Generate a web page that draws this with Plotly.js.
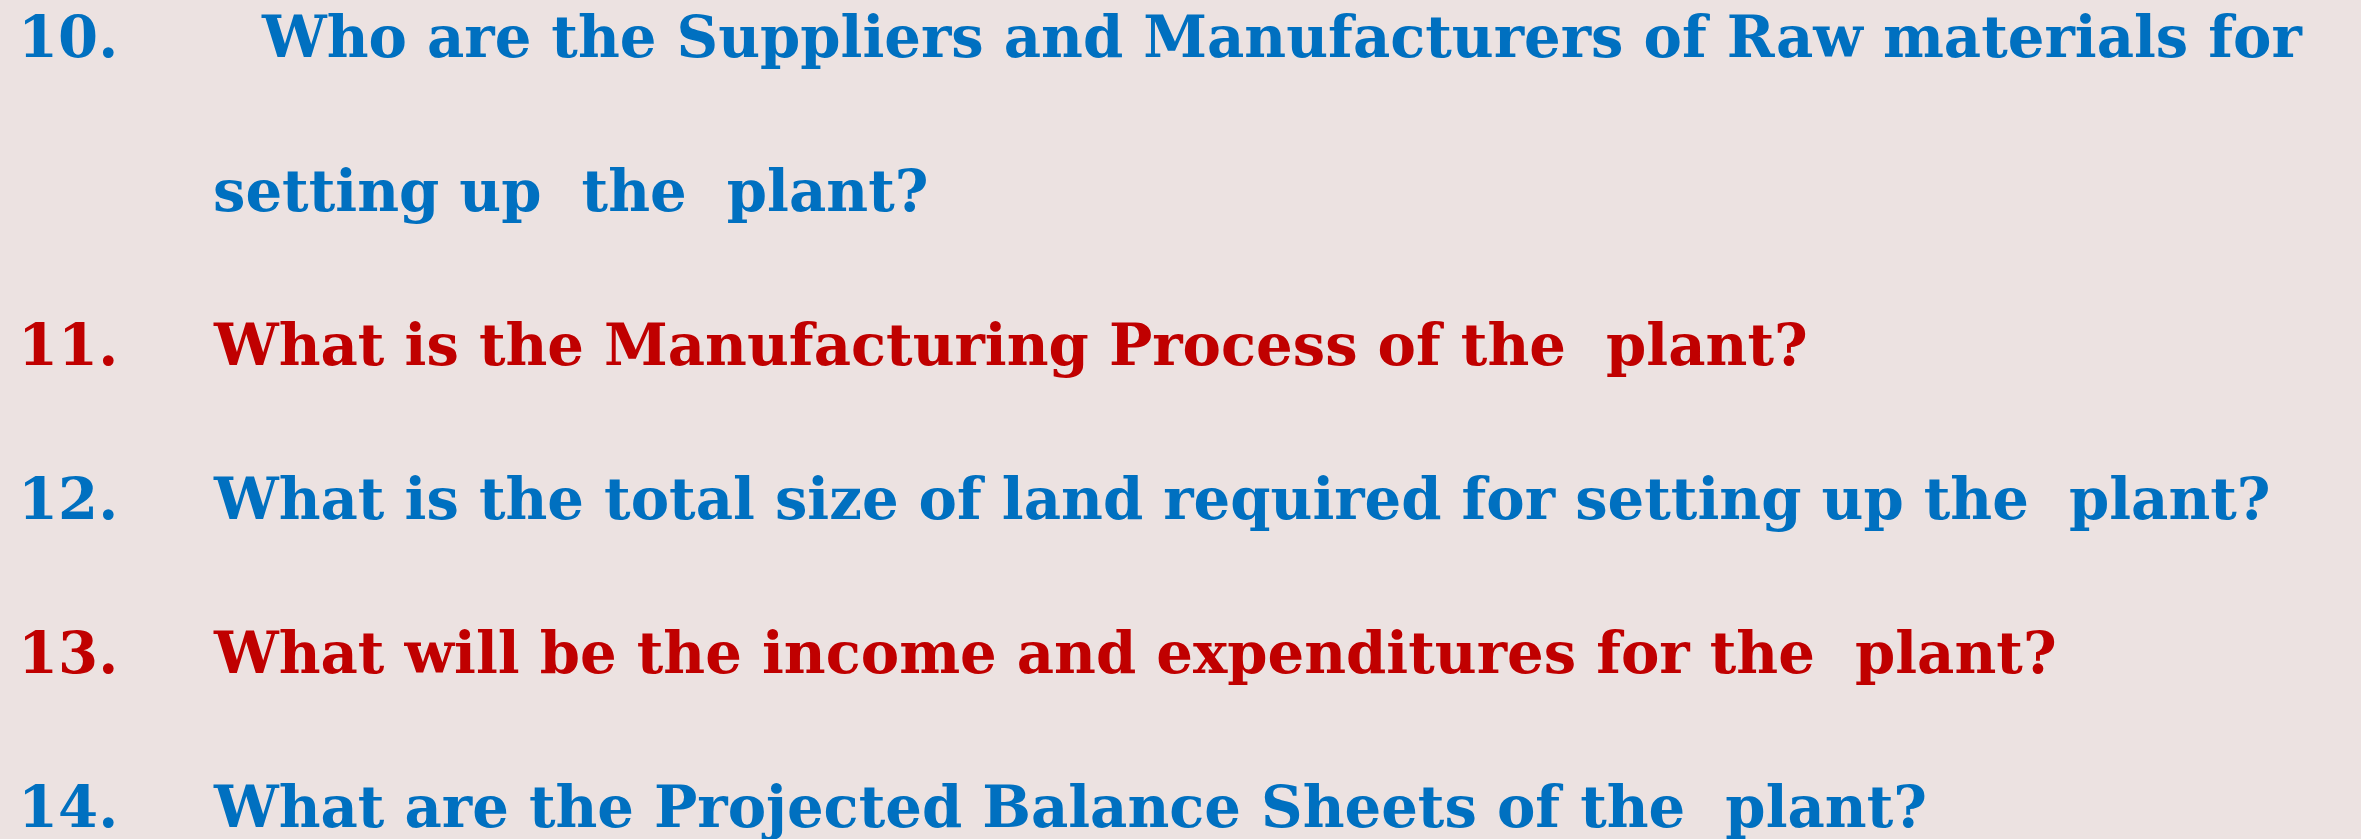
<!DOCTYPE html>
<html>
<head>
<meta charset="utf-8">
<script src="https://cdn.plot.ly/plotly-3.0.1.min.js"></script>
<style>
html,body{margin:0;padding:0;background:#ECE2E1;}
#chart{width:2361px;height:839px;}
</style>
</head>
<body>
<div id="chart"></div>
<script>
// Slide content
const itemNumbers = ['10.', '', '11.', '12.', '13.', '14.'];
const questionLines = [
  'Who are the Suppliers and Manufacturers of Raw materials for',
  'setting up\u00A0 the\u00A0 plant?',
  'What is the Manufacturing Process of the\u00A0 plant?',
  'What is the total size of land required for setting up the\u00A0 plant?',
  'What will be the income and expenditures for the\u00A0 plant?',
  'What are the Projected Balance Sheets of the\u00A0 plant?'
];
const lineColors = ['#0070C0', '#0070C0', '#C00000', '#0070C0', '#C00000', '#0070C0'];

const W = 2361, H = 839;
const fontFamily = '"DejaVu Serif", "Liberation Serif", serif';
const fontSize = 57.6;
const firstY = 37, step = 154;
const numX = 16, textX = 211, firstTextX = 259;

const annotations = [];
questionLines.forEach((t, i) => {
  const y = firstY + i * step;
  if (itemNumbers[i]) {
    annotations.push({
      x: numX, y: y, xref: 'x', yref: 'y', text: '<b>' + itemNumbers[i] + '</b>',
      showarrow: false, xanchor: 'left', yanchor: 'middle',
      font: {family: fontFamily, size: fontSize, color: lineColors[i]}
    });
  }
  annotations.push({
    x: i === 0 ? firstTextX : textX, y: y, xref: 'x', yref: 'y', text: '<b>' + t + '</b>',
    showarrow: false, xanchor: 'left', yanchor: 'middle',
    font: {family: fontFamily, size: fontSize, color: lineColors[i]}
  });
});

Plotly.newPlot('chart', [], {
  width: W, height: H,
  margin: {l: 0, r: 0, t: 0, b: 0},
  paper_bgcolor: '#ECE2E1', plot_bgcolor: '#ECE2E1',
  xaxis: {range: [0, W], visible: false, fixedrange: true},
  yaxis: {range: [H, 0], visible: false, fixedrange: true},
  showlegend: false,
  annotations: annotations
}, {staticPlot: true, displayModeBar: false});
</script>
</body>
</html>
